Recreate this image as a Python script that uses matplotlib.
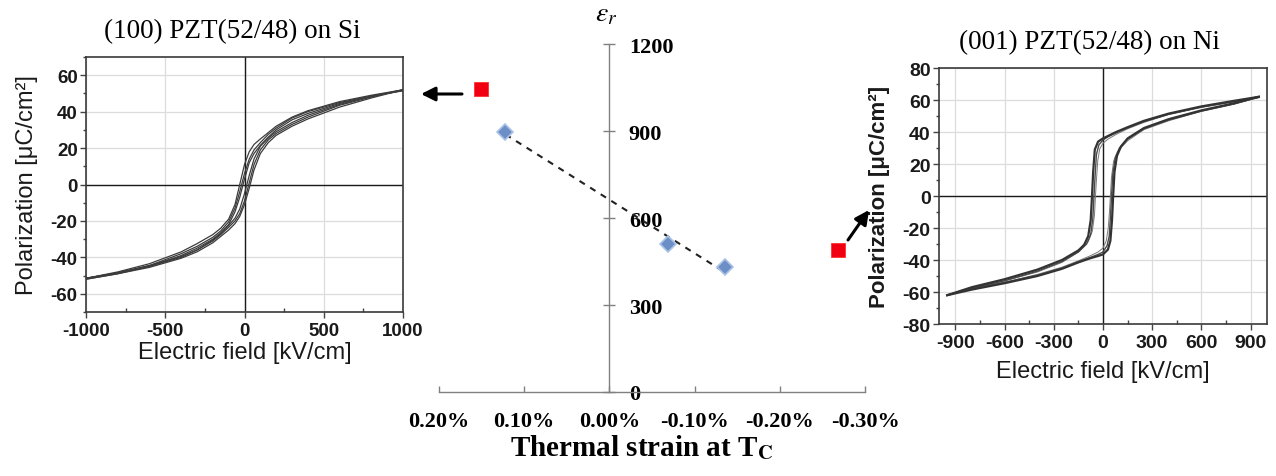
import numpy as np
import matplotlib
matplotlib.use('Agg')
import matplotlib.pyplot as plt
from matplotlib.patches import FancyArrowPatch
from matplotlib.ticker import MultipleLocator

plt.rcParams['font.family'] = ['Liberation Sans', 'DejaVu Sans']
plt.rcParams['mathtext.fontset'] = 'stix'

# P-E loops, (100) PZT on Si : descending branch from +Emax, ascending from -Emax
E_si_dn = [1000, 800, 600, 400, 300, 200, 150, 100, 60, 30, 0, -30, -60, -100, -150, -200, -300, -400, -600, -800, -1000]
E_si_up = E_si_dn[::-1]
P_si_dn1 = [52, 49, 45.5, 40.5, 37, 32, 28.5, 25, 22, 18, 11, 0, -11, -19, -24, -27.5, -32.5, -37, -43.5, -48, -51.5]
P_si_up1 = [-51.5, -48.5, -44.5, -39.5, -36, -31, -27.5, -23.5, -20, -16, -9, 1, 11, 19, 24.5, 28, 33, 37, 43.5, 48, 52]
P_si_dn2 = [51.5, 48.5, 45, 40, 36.5, 31, 27.5, 23, 19, 14, 6, -4, -13, -20.5, -25.5, -29, -34, -38, -44.5, -48.5, -51.5]
P_si_up2 = [-51.5, -48.5, -45, -40, -36, -30.5, -27, -22.5, -18.5, -13.5, -5, 5, 14, 21, 25.5, 29, 34, 38, 44, 48.5, 51.5]
P_si_dn3 = [52, 48.5, 44.5, 39, 35.5, 30, 26, 21.5, 17, 12, 3, -7, -15, -22, -26.5, -30, -35, -39, -45, -49, -52]
P_si_up3 = [-52, -49, -45.5, -40.5, -37, -32, -28.5, -25, -21.5, -17.5, -11, -2, 8, 17, 23, 27, 32, 36, 42.5, 47.5, 52]
si_xticks = [-1000, -500, 0, 500, 1000]
si_yticks = [-60, -40, -20, 0, 20, 40, 60]

# P-E loops, (001) PZT on Ni
E_ni_dnA = [950, 800, 600, 400, 250, 150, 80, 30, 0, -30, -50, -60, -67, -75, -90, -115, -150, -250, -400, -600, -800, -950]
P_ni_dnA = [62, 59.5, 56, 51.5, 47, 43, 40, 37.5, 36, 34, 29, 15, 0, -15, -25, -30.5, -34, -40, -46, -52, -57, -62]
E_ni_upA = [-950, -800, -600, -400, -250, -150, -80, -30, 0, 30, 45, 55, 62, 70, 85, 110, 150, 250, 400, 600, 800, 950]
P_ni_upA = [-62, -58.5, -54.5, -50, -45.5, -41.5, -39, -37.5, -36.5, -33.5, -28, -15, 0, 15, 25, 31, 36, 42.5, 48, 53.5, 58, 62]
E_ni_dnB = [950, 800, 600, 400, 250, 150, 80, 30, 0, -25, -40, -48, -55, -62, -75, -100, -150, -250, -400, -600, -800, -950]
P_ni_dnB = [62, 59, 55.5, 51, 46.5, 42.5, 39.5, 37, 35, 32, 26, 13, 0, -14, -24, -30, -35, -41, -47, -53, -57.5, -62]
E_ni_upB = [-950, -800, -600, -400, -250, -150, -80, -30, 0, 25, 38, 46, 52, 60, 75, 100, 150, 250, 400, 600, 800, 950]
P_ni_upB = [-62, -58, -54, -49.5, -45, -41, -38.5, -36.5, -35, -31, -25, -12, 0, 14, 24, 30, 35.5, 42, 47.5, 53, 57.5, 62]
E_ni_dnC = [950, 800, 600, 400, 250, 150, 80, 30, 0, -20, -32, -40, -46, -52, -65, -90, -150, -250, -400, -600, -800, -950]
P_ni_dnC = [61.5, 59, 55.5, 51, 46, 42, 38.5, 35.5, 33, 29.5, 22, 10, 0, -12, -22, -28.5, -35, -41.5, -47.5, -53, -58, -62]
E_ni_upC = [-950, -800, -600, -400, -250, -150, -80, -30, 0, 20, 32, 40, 45, 52, 65, 90, 150, 250, 400, 600, 800, 950]
P_ni_upC = [-62, -58, -54, -49, -44.5, -40.5, -37.5, -35, -32.5, -28, -20, -9, 0, 12, 22, 28, 34.5, 41.5, 47, 53, 57.5, 61.5]
ni_xticks = [-900, -600, -300, 0, 300, 600, 900]
ni_yticks = [-80, -60, -40, -20, 0, 20, 40, 60, 80]

# permittivity vs thermal strain (%)
strain_fit = [0.122, -0.069, -0.136]
eps_fit = [895, 510, 431]
strain_sq = [0.151, -0.268]
eps_sq = [1045, 490]
strain_ticks = [0.2, 0.1, 0.0, -0.1, -0.2, -0.3]
strain_labels = ['0.20%', '0.10%', '0.00%', '-0.10%', '-0.20%', '-0.30%']
eps_ticks = [0, 300, 600, 900, 1200]

W, H = 1276, 477
fig = plt.figure(figsize=(W / 100, H / 100), dpi=100)


def px_axes(x0, y0, x1, y1):
    return fig.add_axes([x0 / W, 1 - y1 / H, (x1 - x0) / W, (y1 - y0) / H])


def pe_panel(ax, xlim, ylim, xticks, yticks, xmin, ymin, fs):
    ax.set_xlim(*xlim)
    ax.set_ylim(*ylim)
    ax.set_xticks(xticks, [str(v) for v in xticks], fontweight='bold', fontsize=fs, color='#1a1a1a')
    ax.set_yticks(yticks, [str(v) for v in yticks], fontweight='bold', fontsize=fs, color='#1a1a1a')
    ax.xaxis.set_minor_locator(MultipleLocator(xmin))
    ax.yaxis.set_minor_locator(MultipleLocator(ymin))
    ax.grid(which='major', color='#dcdcdc', lw=0.9)
    ax.axhline(0, color='#1a1a1a', lw=1.0, zorder=2)
    ax.axvline(0, color='#1a1a1a', lw=1.0, zorder=2)
    ax.tick_params(which='both', color='#444444', width=1)
    ax.tick_params(axis='y', which='major', direction='out', length=4, pad=2)
    ax.tick_params(axis='y', which='minor', direction='out', length=2.5)
    ax.tick_params(axis='x', which='major', direction='out', length=4, pad=3)
    ax.tick_params(axis='x', which='minor', direction='in', length=3)
    for s in ax.spines.values():
        s.set_color('#3a3a3a')
        s.set_linewidth(1.2)


# ---- (100) PZT on Si ----
ax1 = px_axes(86, 58, 403, 313)
for dn, up in [(P_si_dn1, P_si_up1), (P_si_dn2, P_si_up2), (P_si_dn3, P_si_up3)]:
    ax1.plot(E_si_dn, dn, color='#3c3c3c', lw=0.9, zorder=3)
    ax1.plot(E_si_up, up, color='#3c3c3c', lw=0.9, zorder=3)
pe_panel(ax1, (-1000, 1000), (-70, 70), si_xticks, si_yticks, 250, 10, 13.5)
ax1.set_xlabel('Electric field [kV/cm]', fontsize=17, color='#1a1a1a')
ax1.set_ylabel('Polarization [μC/cm²]', fontsize=17, color='#1a1a1a')
ax1.xaxis.set_label_coords(0.5, -0.115)
ax1.yaxis.set_label_coords(-0.15, 0.5)
fig.text(232 / W, 1 - 32 / H, '(100) PZT(52/48) on Si', family='Liberation Serif',
         fontsize=19.5, ha='center', va='center')

# ---- (001) PZT on Ni ----
ax3 = px_axes(939, 69, 1267, 325)
ax3.plot(E_ni_dnC, P_ni_dnC, color='#7a7a7a', lw=0.7, zorder=3)
ax3.plot(E_ni_upC, P_ni_upC, color='#7a7a7a', lw=0.7, zorder=3)
ax3.plot(E_ni_dnB, P_ni_dnB, color='#4a4a4a', lw=1.0, zorder=3)
ax3.plot(E_ni_upB, P_ni_upB, color='#4a4a4a', lw=1.0, zorder=3)
ax3.plot(E_ni_dnA, P_ni_dnA, color='#333333', lw=1.6, zorder=3)
ax3.plot(E_ni_upA, P_ni_upA, color='#333333', lw=1.6, zorder=3)
pe_panel(ax3, (-1000, 1000), (-80, 80), ni_xticks, ni_yticks, 150, 10, 14)
ax3.set_xlabel('Electric field [kV/cm]', fontsize=17, color='#1a1a1a')
ax3.set_ylabel('Polarization [μC/cm²]', fontsize=16, fontweight='bold', color='#1a1a1a')
ax3.xaxis.set_label_coords(0.5, -0.14)
ax3.yaxis.set_label_coords(-0.15, 0.5)
fig.text(1089 / W, 1 - 43 / H, '(001) PZT(52/48) on Ni', family='Liberation Serif',
         fontsize=19.5, ha='center', va='center')

# ---- dielectric constant vs thermal strain ----
ax2 = px_axes(439, 45, 865, 393)
ax2.set_xlim(0.2, -0.3)
ax2.set_ylim(0, 1200)
for s in ['left', 'top']:
    ax2.spines[s].set_visible(False)
ax2.spines['right'].set_position(('data', 0))
ax2.spines['bottom'].set_position(('data', 0))
for s in ['right', 'bottom']:
    ax2.spines[s].set_color('#808080')
    ax2.spines[s].set_linewidth(1.0)
ax2.yaxis.tick_right()
ax2.set_yticks(eps_ticks, [str(v) for v in eps_ticks], family='Liberation Serif',
               fontweight='bold', fontsize=16)
ax2.set_xticks(strain_ticks, strain_labels, family='Liberation Serif',
               fontweight='bold', fontsize=16)
ax2.tick_params(axis='y', direction='inout', length=8, width=1, color='#808080', pad=10)
ax2.tick_params(axis='x', direction='in', length=4, width=1, color='#808080', pad=14)
ax2.patch.set_alpha(0)

fit = np.polyfit(strain_fit, eps_fit, 1)
xs = np.array([max(strain_fit), min(strain_fit)])
ax2.plot(xs, np.polyval(fit, xs), ls=(0, (3, 3)), color='#222222', lw=1.5, zorder=2)
ax2.plot(strain_fit, eps_fit, 'D', ms=8.5, color='#6b8fc6', mec='#a9c2e6', mew=1.2,
         zorder=3, clip_on=False)
ax2.plot(strain_sq, eps_sq, 's', ms=10, color='#f00010', mec='#ff3030', mew=0.6,
         zorder=3, clip_on=False)

ax2.annotate(r'$\varepsilon_r$', xy=(0, 1200), xytext=(-2, 22), textcoords='offset points',
             ha='center', va='center', fontsize=20)
ax2.set_xlabel(r'Thermal strain at T$_{\mathbf{C}}$', family='Liberation Serif',
               fontweight='bold', fontsize=21)
ax2.xaxis.set_label_coords((642 - 439) / 426, -(434 - 393) / 348)

# arrows pointing from the red markers to the two loops
arrow = dict(arrowstyle='-|>,head_length=0.6,head_width=0.3', color='k', lw=2.2,
             shrinkA=0, shrinkB=0, mutation_scale=14, transform=fig.transFigure)
fig.add_artist(FancyArrowPatch((462 / W, 1 - 95 / H), (421 / W, 1 - 95 / H), **arrow))
fig.add_artist(FancyArrowPatch((848 / W, 1 - 241 / H), (869 / W, 1 - 211 / H), **arrow))

fig.savefig('out.png', dpi=100)
